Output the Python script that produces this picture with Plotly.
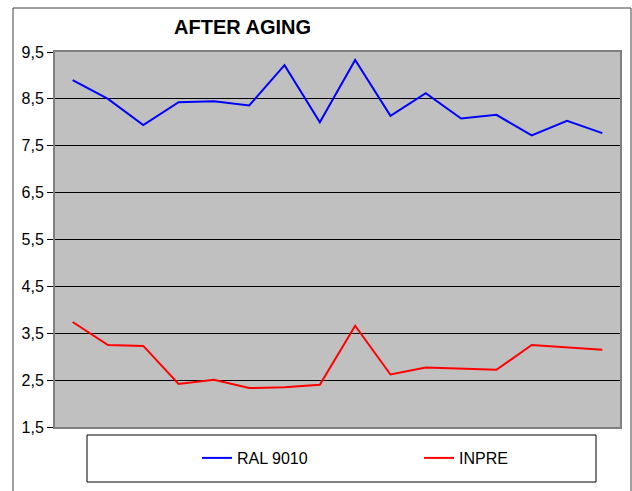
import plotly.graph_objects as go

categories = list(range(1, 17))
ral_9010 = [8.90, 8.50, 7.94, 8.43, 8.45, 8.36, 9.22, 8.00, 9.33, 8.14, 8.62, 8.08, 8.16, 7.72, 8.03, 7.77]
inpre = [3.74, 3.25, 3.23, 2.42, 2.51, 2.33, 2.35, 2.40, 3.66, 2.62, 2.77, 2.75, 2.72, 3.25, 3.20, 3.15]
y_ticks = [1.5, 2.5, 3.5, 4.5, 5.5, 6.5, 7.5, 8.5, 9.5]

W, H = 632, 491
L, R, T, B = 55, 620, 52, 427

def px(x):
    return (x - L) / (R - L)

def py(y):
    return (B - y) / (B - T)

fig = go.Figure()
fig.add_trace(go.Scatter(x=categories, y=ral_9010, mode="lines", name="RAL 9010",
                         line=dict(color="#0000FF", width=2)))
fig.add_trace(go.Scatter(x=categories, y=inpre, mode="lines", name="INPRE",
                         line=dict(color="#FF0000", width=2)))

font = "Liberation Sans, Arial, sans-serif"
fig.update_layout(
    width=W, height=H,
    margin=dict(l=L, r=W - R, t=T, b=H - B, pad=0, autoexpand=False),
    paper_bgcolor="white",
    plot_bgcolor="#C0C0C0",
    separators=", ",
    font=dict(family=font, size=16, color="black"),
    showlegend=True,
    legend=dict(orientation="h", x=px(197), xanchor="left", y=py(458), yanchor="middle",
                entrywidth=177, entrywidthmode="pixels", bgcolor="rgba(0,0,0,0)",
                borderwidth=0, font=dict(family=font, size=16, color="black")),
    annotations=[dict(text="<b>AFTER AGING</b>", xref="paper", yref="paper",
                      x=px(242), y=py(27), xanchor="center", yanchor="middle",
                      showarrow=False, font=dict(family=font, size=20, color="black"))],
    shapes=[
        dict(type="rect", xref="paper", yref="paper", x0=px(13), x1=px(631), y0=py(505), y1=py(8),
             line=dict(color="#404040", width=1), layer="below"),
        dict(type="rect", xref="paper", yref="paper", x0=px(87), x1=px(596), y0=py(482), y1=py(435),
             line=dict(color="black", width=1)),
    ],
)
fig.update_xaxes(range=[0.5, 16.5], showticklabels=False, ticks="", showgrid=False,
                 zeroline=False, showline=True, linecolor="#808080", linewidth=2, mirror=True)
fig.update_yaxes(range=[1.5, 9.5], tickvals=y_ticks, tickformat=".1f", ticks="outside",
                 ticklen=6, tickcolor="black", showgrid=True, gridcolor="black", gridwidth=1,
                 zeroline=False, showline=True, linecolor="#808080", linewidth=2, mirror=True,
                 tickfont=dict(family=font, size=16, color="black"))

fig.write_html("out.html", config={"displayModeBar": False},
               post_script="document.body.style.margin='0px';")
